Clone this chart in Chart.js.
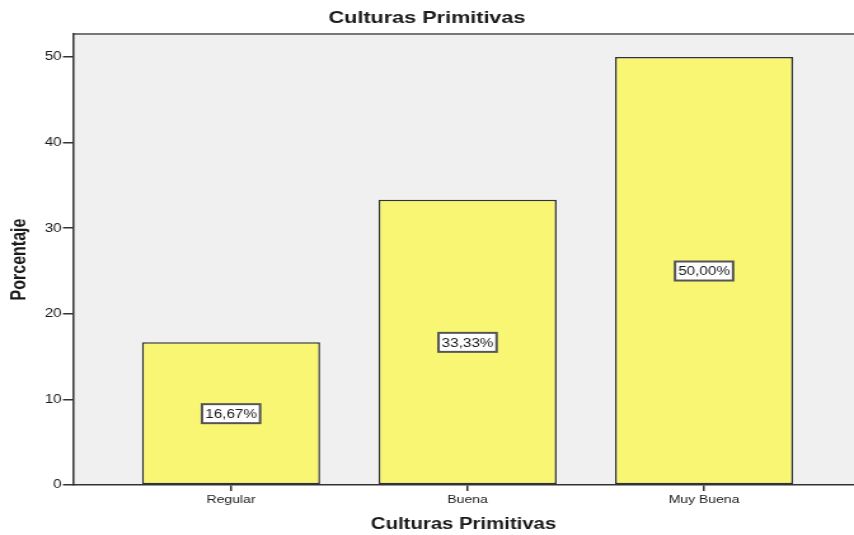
<!DOCTYPE html>
<html>
<head>
<meta charset="utf-8">
<script src="https://cdn.jsdelivr.net/npm/chart.js@4"></script>
<style>
  html, body { margin: 0; padding: 0; background: #fff; overflow: hidden; }
  #wrap { width: 854px; height: 535px; }
</style>
</head>
<body>
<div id="wrap">
  <!-- the reference is an SPSS export stretched horizontally, so the canvas is drawn narrower and shown at 854px -->
  <canvas id="c" width="672" height="535" style="width:854px;height:535px"></canvas>
</div>
<script>
// data
const categories = ['Regular', 'Buena', 'Muy Buena'];
const percents   = [16.67, 33.33, 50.00];
const yTicks     = [0, 10, 20, 30, 40, 50];

const FONT = "'Liberation Sans', Arial, sans-serif";
const INK = '#1a1a1a';

// plot frame: light grey fill + top rule
const framePlugin = {
  id: 'frame',
  beforeDraw(chart) {
    const { ctx, chartArea: a } = chart;
    ctx.save();
    ctx.fillStyle = '#fff';
    ctx.fillRect(0, 0, chart.width, chart.height);
    ctx.fillStyle = '#f0f0f0';
    ctx.fillRect(a.left, a.top, a.right - a.left, a.bottom - a.top);
    ctx.strokeStyle = '#777';
    ctx.lineWidth = 2;
    ctx.beginPath();
    ctx.moveTo(a.left, a.top);
    ctx.lineTo(a.right, a.top);
    ctx.stroke();
    ctx.restore();
  }
};

// boxed value labels at half height of each bar
const boxLabels = {
  id: 'boxLabels',
  afterDatasetsDraw(chart) {
    const { ctx } = chart;
    const yScale = chart.scales.y;
    const meta = chart.getDatasetMeta(0);
    ctx.save();
    ctx.font = '12px ' + FONT;
    ctx.textAlign = 'center';
    ctx.textBaseline = 'middle';
    meta.data.forEach((bar, i) => {
      const v = percents[i];
      const txt = v.toFixed(2).replace('.', ',') + '%';
      const y = yScale.getPixelForValue(v / 2);
      const w = ctx.measureText(txt).width + 5;
      const h = 19;
      ctx.fillStyle = '#fff';
      ctx.fillRect(bar.x - w / 2, y - h / 2, w, h);
      ctx.strokeStyle = '#555';
      ctx.lineWidth = 2;
      ctx.strokeRect(bar.x - w / 2, y - h / 2, w, h);
      ctx.fillStyle = INK;
      ctx.fillText(txt, bar.x, y + 1);
    });
    ctx.restore();
  }
};

new Chart(document.getElementById('c'), {
  type: 'bar',
  data: {
    datasets: [{
      data: categories.map((c, i) => ({ x: i, y: percents[i] })),
      backgroundColor: '#f9f673',
      borderColor: '#333',
      borderWidth: 1.5,
      borderSkipped: false,
      barPercentage: 0.753,
      categoryPercentage: 1,
    }],
  },
  options: {
    responsive: false,
    animation: false,
    devicePixelRatio: 1,
    layout: { padding: 0 },
    plugins: {
      legend: { display: false },
      tooltip: { enabled: false },
      title: {
        display: true,
        text: 'Culturas Primitivas',
        color: INK,
        font: { family: FONT, size: 17, weight: 'bold' },
        padding: { top: 8, bottom: 5.6 },
      },
    },
    scales: {
      x: {
        type: 'linear',
        offset: false,
        min: -0.668,
        max: 2.634,
        afterBuildTicks(s) { s.ticks = categories.map((c, i) => ({ value: i })); },
        afterFit(s) { s.height = 50; },
        grid: { offset: false, drawOnChartArea: false, drawTicks: true, tickLength: 6, color: '#333', lineWidth: 1.5 },
        border: { display: true, color: '#333', width: 1.5 },
        ticks: {
          color: INK,
          font: { family: FONT, size: 11 },
          padding: 2,
          maxRotation: 0,
          callback: (v) => categories[v] ?? '',
        },
        title: {
          display: true,
          text: 'Culturas Primitivas',
          color: INK,
          font: { family: FONT, size: 16, weight: 'bold' },
          padding: { top: 6, bottom: 1 },
        },
      },
      y: {
        min: 0,
        max: 52.69,
        afterBuildTicks(s) { s.ticks = yTicks.map(v => ({ value: v })); },
        afterFit(s) { s.width = 57.5; },
        grid: { drawOnChartArea: false, drawTicks: true, tickLength: 8, color: '#333', lineWidth: 1.5 },
        border: { display: true, color: '#333', width: 1.5 },
        ticks: { color: INK, font: { family: FONT, size: 12 }, padding: 1 },
        title: {
          display: true,
          text: 'Porcentaje',
          color: INK,
          font: { family: FONT, size: 16, weight: 'bold' },
          padding: { top: 6, bottom: 0 },
        },
      },
    },
  },
  plugins: [framePlugin, boxLabels],
});
</script>
</body>
</html>
